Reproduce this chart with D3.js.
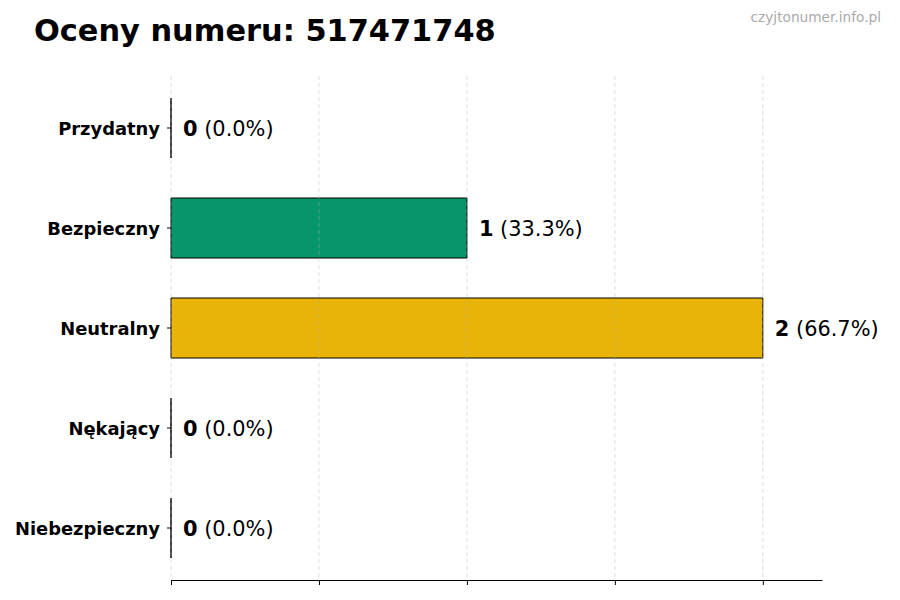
<!DOCTYPE html>
<html><head><meta charset="utf-8">
<script src="https://cdn.jsdelivr.net/npm/d3@7"></script>
<style>body{margin:0;background:#fff}svg{display:block;font-family:"DejaVu Sans",sans-serif}</style>
</head><body><svg id="c" width="900" height="600"></svg>
<script>
const categories = ["Przydatny","Bezpieczny","Neutralny","Nękający","Niebezpieczny"];
const values = [0,1,2,0,0];
const percents = ["0.0%","33.3%","66.7%","0.0%","0.0%"];
const colors = ["#3a7fd0","#06966a","#e9b40a","#e06a1a","#d02a2a"];
const xTicks = [0,0.5,1,1.5,2];
const title = "Oceny numeru: 517471748";
const watermark = "czyjtonumer.info.pl";

const svg = d3.select("#c");
const x = d3.scaleLinear().domain([0,2.2]).range([171,822]);
const y = d3.scaleBand().domain(categories).range([76,580]).paddingInner(0.4).paddingOuter(0.22);

// bars (paths so zero-width bars still show their outline)
svg.append("g").selectAll("path").data(categories).join("path")
  .attr("d",(d,i)=>{
    const x0=x(0), w=x(values[i])-x(0), y0=y(d), h=y.bandwidth();
    return `M${x0},${y0}h${w}v${h}h${-w}Z`;
  })
  .attr("fill",(d,i)=>colors[i]).attr("stroke","#000").attr("stroke-width",1);

// grid on top
svg.append("g").selectAll("line").data(xTicks).join("line")
  .attr("x1",d=>x(d)).attr("x2",d=>x(d)).attr("y1",76).attr("y2",580)
  .attr("stroke","#b0b0b0").attr("stroke-opacity",0.55).attr("stroke-dasharray","4,3").attr("stroke-width",0.8);

// x axis
const xa = svg.append("g").attr("transform","translate(0,580)")
  .call(d3.axisBottom(x).tickValues(xTicks).tickFormat("").tickSize(5).tickSizeOuter(0));
xa.select(".domain").attr("stroke","#000").attr("stroke-width",1.2);
xa.selectAll(".tick line").attr("stroke","#000");

// y axis (ticks only)
const ya = svg.append("g").attr("transform",`translate(${x(0)},0)`)
  .call(d3.axisLeft(y).tickSize(4).tickPadding(7));
ya.select(".domain").remove();
ya.selectAll(".tick line").attr("stroke","#000");
ya.selectAll(".tick text").attr("font-size","17.9px").attr("font-weight","bold")
  .attr("fill","#000").attr("font-family","DejaVu Sans").attr("dy","0.4em");

// value labels
const lab = svg.append("g").selectAll("text").data(categories).join("text")
  .attr("x",(d,i)=>x(values[i])+12).attr("y",d=>y(d)+y.bandwidth()/2)
  .attr("dy","0.38em").attr("font-size","20.9px").attr("fill","#000");
lab.append("tspan").attr("font-weight","bold").text((d,i)=>values[i]);
lab.append("tspan").text((d,i)=>" ("+percents[i]+")");

svg.append("text").attr("x",34).attr("y",41).attr("font-size","30.4px").attr("font-weight","bold").text(title);
svg.append("text").attr("x",881).attr("y",22).attr("text-anchor","end").attr("font-size","13.7px").attr("fill","#aaaaaa").text(watermark);
</script></body></html>
